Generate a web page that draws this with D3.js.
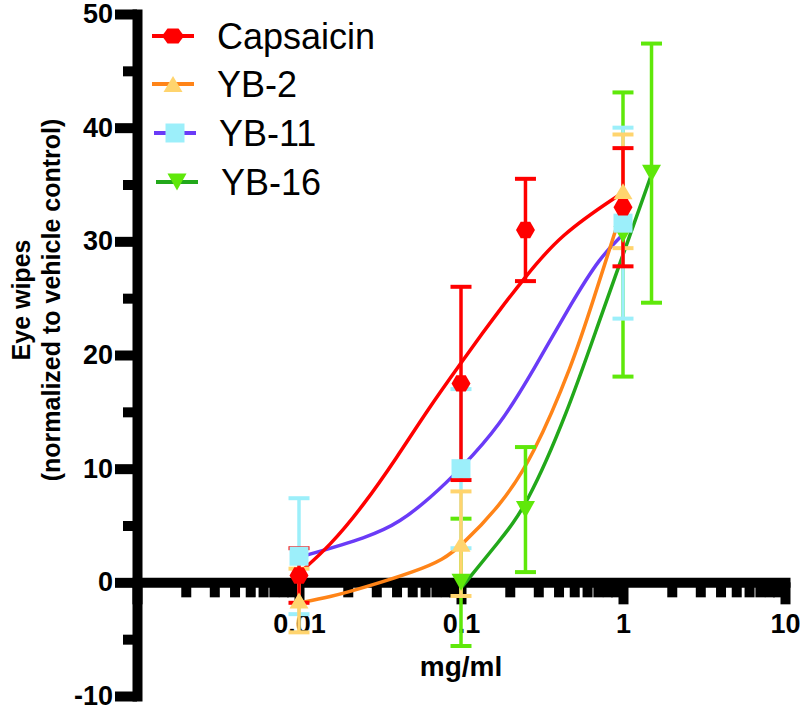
<!DOCTYPE html>
<html>
<head>
<meta charset="utf-8">
<script src="https://cdn.jsdelivr.net/npm/d3@7"></script>
<style>
  html, body { margin: 0; padding: 0; background: #ffffff; }
  svg { display: block; font-family: "Liberation Sans", Arial, Helvetica, sans-serif; }
</style>
</head>
<body>
<svg id="chart" width="800" height="710"></svg>
<script>
// ---------------- data ----------------
const seriesNames = ["Capsaicin", "YB-2", "YB-11", "YB-16"];

// measured points (mean, SEM)
const capsX   = [0.01, 0.1, 0.25, 1];
const capsY   = [0.6, 17.5, 31.0, 33.0];
const capsErr = [2.4, 8.5, 4.5, 5.2];

const yb2X   = [0.01, 0.1, 1];
const yb2Y   = [-1.6, 3.4, 34.4];
const yb2Err = [2.8, 4.6, 5.0];

const yb11X   = [0.01, 0.1, 1];
const yb11Y   = [2.3, 10.0, 31.6];
const yb11Err = [5.1, 7.0, 8.4];

const yb16X   = [0.1, 0.25, 1, 1.5];
const yb16Y   = [0.0, 6.4, 30.6, 36.0];
const yb16Err = [5.6, 5.5, 12.5, 11.4];

// fitted curves
const capsFitX = [0.01, 0.0155, 0.0248, 0.0403, 0.0617, 0.1, 0.137, 0.174, 0.238, 0.408, 1];
const capsFitY = [0.8, 3.2, 6.7, 11.0, 15.1, 19.3, 22.0, 24.0, 26.5, 30.6, 34.3];

const yb2FitX = [0.01, 0.0155, 0.0248, 0.0534, 0.0775, 0.1, 0.174, 0.278, 0.491, 0.644, 1];
const yb2FitY = [-1.8, -1.3, -0.5, 1.0, 2.0, 3.2, 6.7, 11.0, 19.3, 24.5, 33.0];

const yb11FitX = [0.01, 0.0274, 0.042, 0.0644, 0.1, 0.174, 0.278, 0.491, 0.722, 1];
const yb11FitY = [2.2, 4.0, 5.3, 7.4, 10.0, 13.8, 18.6, 24.8, 28.6, 30.6];

const yb16FitX = [0.1, 0.174, 0.252, 0.451, 0.722, 1, 1.5];
const yb16FitY = [-0.5, 3.7, 6.6, 14.8, 23.2, 28.8, 35.9];

// axes
const xMajorTicks = [0.001, 0.01, 0.1, 1, 10];
const xTickLabels = ["", "0.01", "0.1", "1", "10"];
const xMinorTicks = [0.002,0.003,0.004,0.005,0.006,0.007,0.008,0.009,
                     0.02,0.03,0.04,0.05,0.06,0.07,0.08,0.09,
                     0.2,0.3,0.4,0.5,0.6,0.7,0.8,0.9,
                     2,3,4,5,6,7,8,9];
const yMajorTicks = [-10, 0, 10, 20, 30, 40, 50];
const yMinorTicks = [-5, 5, 15, 25, 35, 45];
const xTitle = "mg/ml";
const yTitle1 = "Eye wipes";
const yTitle2 = "(normalized to vehicle control)";

// ---------------- styles ----------------
const lineColors   = ["#FF0000", "#FF8418", "#6A3BF7", "#22A81A"];
const markerColors = ["#FF0000", "#FFD46E", "#9CEFFA", "#5FE80A"];
const markerShapes = ["hexagon", "triangleUp", "square", "triangleDown"];

const series = [
  {x: capsX, y: capsY, e: capsErr, fx: capsFitX, fy: capsFitY},
  {x: yb2X,  y: yb2Y,  e: yb2Err,  fx: yb2FitX,  fy: yb2FitY},
  {x: yb11X, y: yb11Y, e: yb11Err, fx: yb11FitX, fy: yb11FitY},
  {x: yb16X, y: yb16Y, e: yb16Err, fx: yb16FitX, fy: yb16FitY}
].map((s, i) => Object.assign(s, {
  name: seriesNames[i], line: lineColors[i], mark: markerColors[i], shape: markerShapes[i]
}));

// ---------------- scales ----------------
const svg = d3.select("#chart");
const x = d3.scaleLog().domain([0.001, 10]).range([137, 785]);
const y = d3.scaleLinear().domain([-10, 50]).range([696, 14]);

const FONT = "'Liberation Sans', Arial, Helvetica, sans-serif";

// ---------------- axes ----------------
function styleAxis(g, tickW) {
  g.attr("font-family", FONT).attr("font-size", 27).attr("font-weight", "bold");
  g.selectAll(".tick line").attr("stroke", "#000").attr("stroke-width", tickW);
  g.selectAll(".tick text").attr("fill", "#000");
}

// y axis minor
const gyMinor = svg.append("g").attr("transform", `translate(${x(0.001)},0)`)
  .call(d3.axisLeft(y).tickValues(yMinorTicks).tickSize(14).tickFormat(""));
gyMinor.select(".domain").remove();
styleAxis(gyMinor, 10);

// y axis major
const gy = svg.append("g").attr("transform", `translate(${x(0.001)},0)`)
  .call(d3.axisLeft(y).tickValues(yMajorTicks).tickSize(22).tickSizeOuter(0).tickPadding(2)
    .tickFormat(d => String(d)));
gy.select(".domain").attr("stroke", "#000").attr("stroke-width", 10).attr("stroke-linecap", "square");
styleAxis(gy, 10);

// x axis minor
const gxMinor = svg.append("g").attr("transform", `translate(0,${y(0)})`)
  .call(d3.axisBottom(x).tickValues(xMinorTicks).tickSize(15).tickFormat(""));
gxMinor.select(".domain").remove();
styleAxis(gxMinor, 10);

// x axis major
const gx = svg.append("g").attr("transform", `translate(0,${y(0)})`)
  .call(d3.axisBottom(x).tickValues(xMajorTicks).tickSize(22).tickSizeOuter(0).tickPadding(10)
    .tickFormat((d, i) => xTickLabels[i]));
gx.select(".domain").attr("stroke", "#000").attr("stroke-width", 10).attr("stroke-linecap", "square");
styleAxis(gx, 10);

// axis titles
svg.append("text")
  .attr("x", x(0.1)).attr("y", 676)
  .attr("text-anchor", "middle")
  .attr("font-family", FONT).attr("font-size", 28).attr("font-weight", "bold")
  .text(xTitle);

svg.append("text")
  .attr("transform", "translate(30,300) rotate(-90)")
  .attr("text-anchor", "middle")
  .attr("font-family", FONT).attr("font-size", 25).attr("font-weight", "bold")
  .text(yTitle1);
svg.append("text")
  .attr("transform", "translate(60,300) rotate(-90)")
  .attr("text-anchor", "middle")
  .attr("font-family", FONT).attr("font-size", 25).attr("font-weight", "bold")
  .text(yTitle2);

// ---------------- marker shapes ----------------
function shapePath(shape, s) {
  if (shape === "hexagon") {
    const r = 9.5 * s, h = 8.2 * s;
    return `M${r},0L${r/2},${h}L${-r/2},${h}L${-r},0L${-r/2},${-h}L${r/2},${-h}Z`;
  }
  if (shape === "square") {
    const a = 9.5 * s;
    return `M${-a},${-a}H${a}V${a}H${-a}Z`;
  }
  if (shape === "triangleUp") {
    const w = 9.5 * s, h = 8 * s;
    return `M0,${-h}L${w},${h}L${-w},${h}Z`;
  }
  // triangleDown
  const w = 9.5 * s, h = 8.5 * s;
  return `M0,${h}L${w},${-h}L${-w},${-h}Z`;
}

// ---------------- plot data ----------------
const plot = svg.append("g");
const line = d3.line().x(d => x(d[0])).y(d => y(d[1])).curve(d3.curveBasis);

// curves
series.slice().reverse().forEach(s => {
  plot.append("path")
    .datum(s.fx.map((v, i) => [v, s.fy[i]]))
    .attr("d", line)
    .attr("fill", "none")
    .attr("stroke", s.line)
    .attr("stroke-width", 3.5);
});

// error bars
series.slice().reverse().forEach(s => {
  const g = plot.append("g").attr("stroke", s.mark);
  s.x.forEach((xv, i) => {
    const cx = x(xv), lo = y(s.y[i] - s.e[i]), hi = y(s.y[i] + s.e[i]);
    g.append("line").attr("x1", cx).attr("x2", cx).attr("y1", lo).attr("y2", hi).attr("stroke-width", 3.5);
    [lo, hi].forEach(yy => {
      g.append("line").attr("x1", cx - 10.5).attr("x2", cx + 10.5).attr("y1", yy).attr("y2", yy).attr("stroke-width", 4);
    });
  });
});

// markers
series.slice().reverse().forEach(s => {
  s.x.forEach((xv, i) => {
    plot.append("path")
      .attr("d", shapePath(s.shape, 1))
      .attr("transform", `translate(${x(xv)},${y(s.y[i])})`)
      .attr("fill", s.mark);
  });
});

// ---------------- legend ----------------
const legendRowY = [36, 84, 133, 182];
const legendShift = [0, 0, 2, 4];
const legend = svg.append("g");
series.forEach((s, i) => {
  const ry = legendRowY[i], dx = legendShift[i];
  legend.append("line")
    .attr("x1", 152 + dx).attr("x2", 194 + dx).attr("y1", ry).attr("y2", ry)
    .attr("stroke", s.line).attr("stroke-width", 4);
  legend.append("path")
    .attr("d", s.shape === "hexagon"
      ? `M11,0L5.5,7.5L-5.5,7.5L-11,0L-5.5,-7.5L5.5,-7.5Z`
      : shapePath(s.shape, 1))
    .attr("transform", `translate(${173 + dx},${ry})`)
    .attr("fill", s.mark);
  legend.append("text")
    .attr("x", 217 + dx).attr("y", ry + 13)
    .attr("font-family", FONT).attr("font-size", 36)
    .attr("fill", "#000")
    .text(s.name);
});
</script>
</body>
</html>
